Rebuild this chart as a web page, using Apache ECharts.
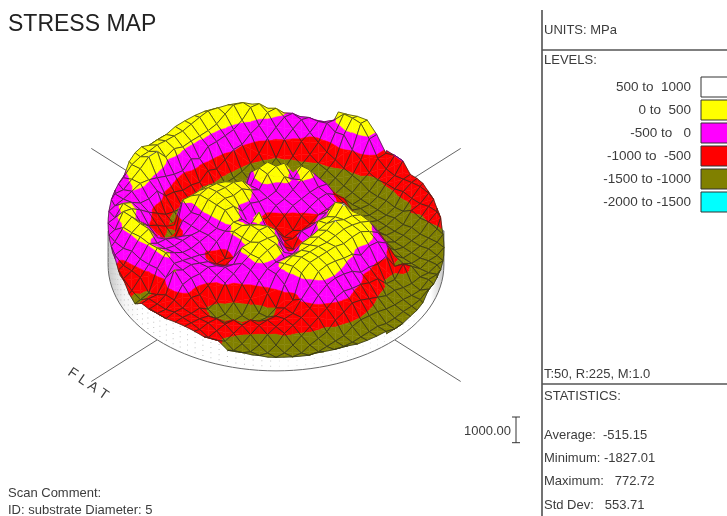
<!DOCTYPE html>
<html>
  <head>
    <meta charset="utf-8" />
    <title>STRESS MAP</title>
    <script src="https://cdn.jsdelivr.net/npm/echarts@6/dist/echarts.min.js"></script>
  </head>
  <body style="margin: 0; padding: 0; border: 0; background: #fff">
    <div id="main" style="width: 727px; height: 516px"></div>
    <script type="text/javascript">
      // stress in MPa on a lattice turned 45deg, first row is the back of the wafer.
      // row d runs from -19 to 19, nodes in a row sit at e = -(n-1), -(n-3) ... (n-1)
      var stressRows = [
        [450, 350, 150, -30, -130, -200],
        [420, 300, 60, -150, -220, -280, -420, -60, 300],
        [380, 120, -100, -260, -440, -490, -560, -600, -200, 350],
        [320, 70, -130, -470, -820, -1000, -920, -860, -760, -100, 350],
        [260, 70, -150, -460, -990, -1240, -1200, -1060, -1000, -860, -470, -50],
        [130, 280, 80, -130, -650, -1100, -1300, -1350, -1300, -1150, -1060, -980, -650, -600, -480],
        [300, 60, -400, -800, -1150, -1300, -1400, -1400, -1350, -1250, -1150, -1050, -950, -800],
        [350, 200, -200, -650, -1150, -1300, -1400, -1400, -1400, -1350, -1300, -1250, -1100, -1020, -850],
        [300, 80, -450, -900, -1150, -1350, -1400, -1300, -1300, -1300, -1350, -1350, -1300, -1250, -950, -780],
        [300, 510, -380, -800, -1200, -1400, -1200, -600, -700, -800, -1000, -1300, -1350, -1350, -1250, -950, -700],
        [200, 510, -250, -800, -1150, -1350, -1300, -100, 300, 260, 150, -300, -1100, -1350, -1350, -1200, -850, -650],
        [-100, 250, -100, -650, -1050, -1300, -1350, -900, 280, 350, -150, 200, -350, -900, -1300, -1350, -1250, -900, -700],
        [50, 30, -600, -1050, -1300, -800, -300, -200, 250, 150, 30, -250, -550, -1150, -1350, -1350, -1200, -900],
        [-150, 100, -200, -1000, -1350, 30, 160, 200, -150, -200, -150, -250, -300, -650, -1200, -1350, -1250, -950, -800],
        [-100, 0, -300, -900, -1300, 30, 300, 350, 50, -250, -300, -300, -300, -450, -800, -1200, -1350, -1300, -1050, -800],
        [-100, -250, -650, -1100, 30, 350, 350, 300, -200, -350, -350, -400, -500, -350, -800, -1350, -1350, -1200, -980],
        [-150, -20, -400, -950, 80, 280, 400, 250, -50, -600, -550, -550, -500, -300, -600, -1000, -1300, -1300, -1250, -1050],
        [150, -100, -700, -1200, -200, 300, 350, -150, -550, -800, -900, -650, -200, 50, -400, -1000, -1350, -1300, -1200],
        [-200, 150, -500, -1050, -300, -100, 300, 250, -600, -900, -950, -700, -350, 400, 50, -450, -1150, -1350, -1300, -1150],
        [250, -150, -750, -850, -300, -150, 300, -50, 220, -550, -800, -350, 50, 550, 120, -500, -1250, -1350, -1200],
        [-250, 250, -100, -600, -500, -300, -200, 50, -50, -250, -700, -300, 100, 250, 300, 80, -900, -1350, -1350, -1250],
        [50, 200, -350, -350, -250, -250, -100, 120, 150, -50, -800, -350, 200, 350, 250, -150, -1050, -1350, -1250],
        [-300, 50, 200, -200, -250, -300, -300, 100, 350, 300, -500, -600, 150, 520, 350, 100, -350, -1150, -1350, -1200],
        [-350, 100, -150, -250, -350, -550, -750, 80, 350, 150, -650, 80, 350, 400, 300, -100, -1050, -1050, -1300],
        [-400, -250, 50, -150, -300, -400, -750, -500, 100, 250, -300, 50, 300, 350, 300, -50, -450, -750, -1250, -1150],
        [-600, -350, 80, -100, -300, -450, -600, 100, 300, 250, -150, 200, 300, 250, -200, -550, -1150, -1300, -1150],
        [-600, -350, 100, -200, -300, -400, -350, 50, 200, -100, 200, 350, 350, 50, -450, -1100, -1250, -1350],
        [-700, -650, -300, -100, -150, -250, -250, -100, 100, -50, 200, 350, 350, 100, -450, -700, -1150, -1350, -1100],
        [-950, -1050, -450, -150, -300, -350, -300, -150, -100, 100, 350, 350, 200, -200, -650, -1150, -1300, -1300],
        [-1100, -900, 50, -250, -550, -450, -500, -350, -100, 200, 350, 250, -100, -500, -1000, -1300, -1350],
        [-850, -700, -300, -700, -950, -1000, -850, -650, -300, 150, 200, -50, -450, -850, -1250, -1350],
        [-850, -700, -600, -1050, -1250, -1300, -1200, -1000, -700, -150, -100, -350, -700, -1150, -1400],
        [-850, -800, -800, -1200, -1300, -1300, -1150, -800, -450, -300, -400, -600, -1100, -1400],
        [-800, -750, -800, -900, -1150, -1250, -1100, -900, -800, -600, -600, -750, -1050, -1300, -1400],
        [-750, -800, -800, -850, -850, -850, -800, -750, -750, -850, -1100, -1300],
        [-750, -750, -800, -850, -850, -900, -850, -900, -1100, -1250, -1300],
        [-800, -850, -950, -1000, -1000, -950, -1050, -1150, -1250, -1300],
        [-900, -1050, -1150, -1200, -1200, -1200, -1200, -1250, -1250],
        [-1200, -1250, -1300, -1300, -1300, -1250],
      ];

      var levelLabels = ["500 to  1000", "0 to  500", "-500 to   0", "-1000 to  -500", "-1500 to -1000", "-2000 to -1500"];
      var levelColors = ["#ffffff", "#ffff00", "#ff00ff", "#ff0000", "#808000", "#00ffff"];
      var levelTops = [1000, 500, 0, -500, -1000, -1500];
      var levelBottoms = [500, 0, -500, -1000, -1500, -2000];
      var statLines = ["Average:  -515.15", "Minimum: -1827.01", "Maximum:   772.72", "Std Dev:   553.71"];
      var scaleLabel = "1000.00";
      var scaleMpa = 1000;
      var minStress = -1827.01;

      // view settings
      var cx = 276, cy = 218, pxE = 8.48, pxD = 5.35;
      var pxPerMpa = 0.0257;
      var rimR = Math.sqrt(392);
      var firstRow = -19;

      var nodes = {};
      var stored = [];
      stressRows.forEach(function (row, i) {
        row.forEach(function (s, k) {
          var e = -(row.length - 1) + 2 * k, d = firstRow + i;
          nodes[e + "," + d] = s;
          stored.push([e, d, s]);
        });
      });

      // a lattice node outside the wafer slides onto the rim and keeps the nearest value
      function nodeAt(e, d) {
        var key = e + "," + d;
        if (key in nodes) return [e, d, nodes[key]];
        var best = null, bestDist = 1e9;
        stored.forEach(function (n) {
          var dist = (n[0] - e) * (n[0] - e) + (n[1] - d) * (n[1] - d);
          if (dist < bestDist) { bestDist = dist; best = n; }
        });
        var r = Math.sqrt(e * e + d * d);
        return [(e * rimR) / r, (d * rimR) / r, best[2]];
      }

      var cells = [];
      for (var cd = -21; cd <= 21; cd++) {
        for (var ce = -21; ce <= 21; ce++) {
          if (Math.abs(ce + cd) % 2 !== 1) continue;
          var corners = [[ce, cd - 1], [ce + 1, cd], [ce, cd + 1], [ce - 1, cd]];
          var inside = corners.filter(function (c) { return (c[0] + "," + c[1]) in nodes; });
          if (inside.length > 0) cells.push([ce, cd]);
        }
      }

      function planY(d, s) {
        return d - (s * pxPerMpa) / pxD;
      }

      function clipByValue(poly, limit, keepAbove) {
        var out = [];
        for (var i = 0; i < poly.length; i++) {
          var a = poly[i], b = poly[(i + 1) % poly.length];
          var aIn = keepAbove ? a[2] >= limit : a[2] <= limit;
          var bIn = keepAbove ? b[2] >= limit : b[2] <= limit;
          if (aIn) out.push(a);
          if (aIn !== bIn) {
            var t = (limit - a[2]) / (b[2] - a[2]);
            out.push([a[0] + (b[0] - a[0]) * t, a[1] + (b[1] - a[1]) * t, limit]);
          }
        }
        return out;
      }

      function renderCell(params, api) {
        var ce = api.value(0), cd = api.value(1);
        var c = [nodeAt(ce, cd - 1), nodeAt(ce + 1, cd), nodeAt(ce, cd + 1), nodeAt(ce - 1, cd)];
        var mid = [0, 1, 2].map(function (j) { return (c[0][j] + c[1][j] + c[2][j] + c[3][j]) / 4; });
        var toPx = function (v) { return api.coord([v[0], planY(v[1], v[2])]); };
        var children = [];
        for (var t = 0; t < 4; t++) {
          var tri = [c[t], c[(t + 1) % 4], mid];
          levelColors.forEach(function (color, l) {
            var poly = clipByValue(clipByValue(tri, levelBottoms[l], true), levelTops[l], false);
            if (poly.length < 3) return;
            children.push({
              type: "polygon",
              shape: { points: poly.map(toPx) },
              style: { fill: color, stroke: color, lineWidth: 0.5 },
            });
          });
        }
        children.push({
          type: "polygon",
          shape: { points: c.map(toPx) },
          style: { fill: "none", stroke: "rgba(45,45,30,0.72)", lineWidth: 1 },
        });
        return { type: "group", children: children };
      }

      function renderWall(params, api) {
        var pts = [];
        var topY = planY(0, -500);
        pts.push(api.coord([-rimR, topY]));
        for (var a = 180; a >= 0; a -= 3) {
          var th = (a * Math.PI) / 180;
          pts.push(api.coord([rimR * Math.cos(th), planY(rimR * Math.sin(th), minStress)]));
        }
        pts.push(api.coord([rimR, topY]));
        var children = [{
          type: "polygon",
          shape: { points: pts },
          style: {
            fill: {
              type: "linear", x: 0, y: 0, x2: 1, y2: 0,
              colorStops: [
                { offset: 0, color: "#c4c4c4" },
                { offset: 0.05, color: "#f4f4f4" },
                { offset: 0.1, color: "#ffffff" },
                { offset: 0.96, color: "#ffffff" },
                { offset: 1, color: "#c4c4c4" },
              ],
            },
            stroke: "#666",
            lineWidth: 1,
          },
        }];
        // sparse shading dots on the side of the disc
        for (var b = 35; b <= 178; b += 3) {
          var tb = (b * Math.PI) / 180;
          for (var z = 1; z < 8; z++) {
            var p = api.coord([rimR * Math.cos(tb), planY(rimR * Math.sin(tb), minStress + z * 200)]);
            children.push({
              type: "rect",
              shape: { x: p[0], y: p[1], width: 1, height: 1 },
              style: { fill: b > 90 ? "#c4c4c4" : "#e4e4e4" },
            });
          }
        }
        return { type: "group", children: children };
      }

      var axisStart = rimR, axisEnd = 30.8;
      var axisSeries = [[-1, -1], [1, -1], [-1, 1], [1, 1]].map(function (dir) {
        var k = Math.SQRT1_2;
        return {
          type: "line",
          z: 1,
          silent: true,
          showSymbol: false,
          lineStyle: { color: "#666", width: 1 },
          data: [
            [dir[0] * k * axisStart, planY(dir[1] * k * axisStart, minStress)],
            [dir[0] * k * axisEnd, planY(dir[1] * k * axisEnd, minStress)],
          ],
        };
      });

      function label(x, y, text, extra) {
        return {
          type: "text",
          x: x,
          y: y,
          silent: true,
          style: Object.assign(
            { text: text, fill: "#3c3c3c", font: '13px "Liberation Sans"', textVerticalAlign: "middle" },
            extra || {}
          ),
        };
      }

      var graphics = [
        label(8, 25, "STRESS MAP", { font: '23px "Liberation Sans"', fill: "#222" }),
        { type: "line", shape: { x1: 542, y1: 10, x2: 542, y2: 516 }, style: { stroke: "#444", lineWidth: 1.5 } },
        { type: "line", shape: { x1: 542, y1: 50, x2: 727, y2: 50 }, style: { stroke: "#555", lineWidth: 1.5 } },
        { type: "line", shape: { x1: 542, y1: 384, x2: 727, y2: 384 }, style: { stroke: "#555", lineWidth: 1.5 } },
        label(544, 30, "UNITS: MPa"),
        label(544, 60, "LEVELS:"),
        label(544, 374, "T:50, R:225, M:1.0"),
        label(544, 396, "STATISTICS:"),
        label(8, 493, "Scan Comment:"),
        label(8, 510, "ID: substrate Diameter: 5"),
        label(511, 431, scaleLabel, { textAlign: "right" }),
      ];
      var flatLabel = label(88, 384, "F L A T", { textAlign: "center", font: '14px "Liberation Sans"' });
      flatLabel.rotation = -0.6;
      graphics.push(flatLabel);

      levelLabels.forEach(function (text, i) {
        var mid = 87 + i * 23;
        graphics.push(label(691, mid, text, { textAlign: "right", font: '13.5px "Liberation Sans"' }));
        graphics.push({
          type: "rect",
          shape: { x: 701, y: mid - 10, width: 30, height: 20 },
          style: { fill: levelColors[i], stroke: "#333", lineWidth: 1 },
        });
      });
      statLines.forEach(function (text, i) {
        graphics.push(label(544, 435 + i * 23.4, text));
      });

      // vertical scale bar, 1000 MPa tall
      var barH = scaleMpa * pxPerMpa;
      graphics.push({ type: "line", shape: { x1: 516, y1: 417, x2: 516, y2: 417 + barH }, style: { stroke: "#333", lineWidth: 1 } });
      graphics.push({ type: "line", shape: { x1: 512, y1: 417, x2: 520, y2: 417 }, style: { stroke: "#333", lineWidth: 1 } });
      graphics.push({ type: "line", shape: { x1: 512, y1: 417 + barH, x2: 520, y2: 417 + barH }, style: { stroke: "#333", lineWidth: 1 } });

      var myChart = echarts.init(document.getElementById("main"));
      myChart.setOption({
        animation: false,
        backgroundColor: "#fff",
        grid: { left: 0, right: 0, top: 0, bottom: 0 },
        xAxis: { type: "value", show: false, min: -cx / pxE, max: (727 - cx) / pxE },
        yAxis: { type: "value", show: false, inverse: true, min: -cy / pxD, max: (516 - cy) / pxD },
        tooltip: { show: false },
        graphic: graphics,
        series: axisSeries.concat([
          {
            type: "custom",
            z: 2,
            silent: true,
            clip: false,
            data: [[0, 0]],
            renderItem: renderWall,
          },
          {
            type: "custom",
            z: 3,
            silent: true,
            clip: false,
            data: cells,
            renderItem: renderCell,
          },
        ]),
      });
    </script>
  </body>
</html>
